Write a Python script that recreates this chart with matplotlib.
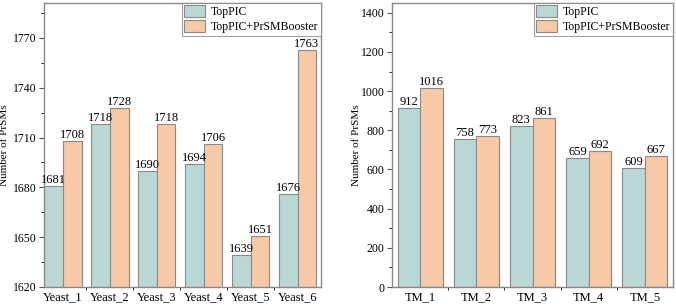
import numpy as np
import matplotlib
matplotlib.use("Agg")
from matplotlib import pyplot as plt
from matplotlib.ticker import MultipleLocator

# data
yeast_labels = ["Yeast_1", "Yeast_2", "Yeast_3", "Yeast_4", "Yeast_5", "Yeast_6"]
yeast_toppic = [1681, 1718, 1690, 1694, 1639, 1676]
yeast_booster = [1708, 1728, 1718, 1706, 1651, 1763]

tm_labels = ["TM_1", "TM_2", "TM_3", "TM_4", "TM_5"]
tm_toppic = [912, 758, 823, 659, 609]
tm_booster = [1016, 773, 861, 692, 667]

c_teal = "#bad8d3"
c_orange = "#f7c9a6"
c_edge = "#8a8a8a"

plt.rcParams["font.family"] = ["Liberation Serif", "DejaVu Serif"]

fig = plt.figure(figsize=(6.76, 3.05), dpi=100)
ax1 = fig.add_axes([44/676, 18/305, 277/676, 284/305])
ax2 = fig.add_axes([392/676, 18/305, 281/676, 284/305])


def draw(ax, labels, a, b, ylim, major, minor, xlim, labx):
    x = np.arange(1, len(labels) + 1)
    w = 0.4
    ax.bar(x - w/2, a, w, color=c_teal, edgecolor=c_edge, linewidth=0.8,
           label="TopPIC")
    ax.bar(x + w/2, b, w, color=c_orange, edgecolor=c_edge, linewidth=0.8,
           label="TopPIC+PrSMBooster")
    for xi, v in zip(x - w/2, a):
        ax.text(xi, v, str(v), ha="center", va="bottom", fontsize=9)
    for xi, v in zip(x + w/2, b):
        ax.text(xi, v, str(v), ha="center", va="bottom", fontsize=9)
    ax.set_ylim(*ylim)
    ax.set_xlim(*xlim)
    ax.set_xticks(x)
    ax.set_xticklabels(labels, fontsize=9)
    ax.set_xticks(np.arange(1.5, len(labels), 1), minor=True)
    ax.yaxis.set_major_locator(MultipleLocator(major))
    ax.yaxis.set_minor_locator(MultipleLocator(minor))
    ax.tick_params(axis="both", labelsize=9, color="#555555", direction="out")
    ax.tick_params(axis="y", which="major", labelsize=8.5, pad=2)
    ax.tick_params(axis="x", which="major", length=0, pad=3)
    ax.tick_params(axis="x", which="minor", length=2)
    ax.tick_params(axis="y", which="minor", length=2)
    for s in ax.spines.values():
        s.set_color("#888888")
        s.set_linewidth(1.0)
    ax.set_ylabel("Number of PrSMs", fontsize=8)
    ax.yaxis.set_label_coords(labx, 0.5)
    leg = ax.legend(loc="upper right", fontsize=8.5, fancybox=False,
                    borderaxespad=0.0, handlelength=1.8, handleheight=1.2,
                    borderpad=0.2, labelspacing=0.15, handletextpad=0.5)
    leg.get_frame().set_edgecolor("#888888")
    leg.get_frame().set_linewidth(0.8)


draw(ax1, yeast_labels, yeast_toppic, yeast_booster, (1620, 1791), 30, 15,
     (0.6, 6.5), -0.125)
draw(ax2, tm_labels, tm_toppic, tm_booster, (0, 1450), 200, 100,
     (0.5, 5.5), -0.11)

fig.savefig("out.png", dpi=100)
